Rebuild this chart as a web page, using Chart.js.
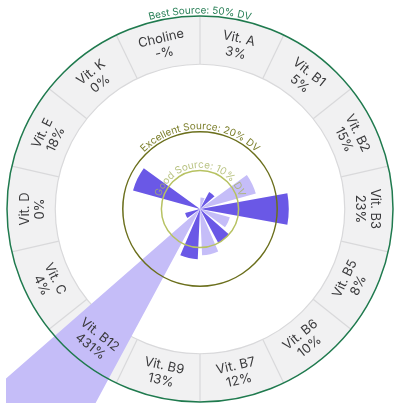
<!DOCTYPE html>
<html>
<head>
<meta charset="utf-8">
<script src="https://cdn.jsdelivr.net/npm/chart.js@4.4.1/dist/chart.umd.min.js"></script>
<style>
  html, body { margin: 0; padding: 0; background: #fff; }
  #wrap { width: 400px; height: 410px; position: relative; }
</style>
</head>
<body>
<div id="wrap"><canvas id="mycanvas"></canvas></div>
<script>
// nutrients, clockwise from the top
var categories = ['Vit. A', 'Vit. B1', 'Vit. B2', 'Vit. B3', 'Vit. B5', 'Vit. B6', 'Vit. B7',
                  'Vit. B9', 'Vit. B12', 'Vit. C', 'Vit. D', 'Vit. E', 'Vit. K', 'Choline'];
// % daily value (null = no data)
var values = [3, 5, 15, 23, 8, 10, 12, 13, 431, 4, 0, 18, 0, null];
// threshold rings
var thresholdValues = [10, 20, 50];
var thresholdLabels = ['Good Source: 10% DV', 'Excellent Source: 20% DV', 'Best Source: 50% DV'];
var scaleMax = 50;
var ringFrom = 37.5;

var dark = '#6a58e6';
var light = '#c5bdf8';
var step = 360 / categories.length;
var barDeg = step * 0.8;
var gapDeg = step - barDeg;

// bars and spacers alternate so each bar sits centred in its slot
var chartLabels = [];
var chartData = [];
for (var i = 0; i < categories.length; i++) {
	chartLabels.push(categories[i]);
	chartData.push(values[i] == null ? 0 : values[i]);
	chartLabels.push('');
	chartData.push(0);
}

function arcText(ctx, text, cx, cy, r) {
	var total = 0;
	var widths = [];
	for (var k = 0; k < text.length; k++) {
		widths.push(ctx.measureText(text[k]).width);
		total += widths[k];
	}
	var a0 = -Math.PI / 2 - total / (2 * r);
	var acc = 0;
	for (var k = 0; k < text.length; k++) {
		var a = a0 + (acc + widths[k] / 2) / r;
		ctx.save();
		ctx.translate(cx + r * Math.cos(a), cy + r * Math.sin(a));
		ctx.rotate(a + Math.PI / 2);
		ctx.fillText(text[k], 0, 0);
		ctx.restore();
		acc += widths[k];
	}
}

var ringPlugin = {
	id: 'ring',
	beforeDatasetsDraw: function(chart) {
		var s = chart.scales.r;
		var ctx = chart.ctx;
		var cx = s.xCenter, cy = s.yCenter;
		var rIn = s.getDistanceFromCenterForValue(ringFrom);
		var rOut = s.getDistanceFromCenterForValue(scaleMax);
		ctx.save();
		ctx.beginPath();
		ctx.arc(cx, cy, rOut, 0, Math.PI * 2);
		ctx.moveTo(cx + rIn, cy);
		ctx.arc(cx, cy, rIn, 0, Math.PI * 2, true);
		ctx.fillStyle = '#f1f1f2';
		ctx.fill();
		ctx.strokeStyle = '#d9d9db';
		ctx.lineWidth = 1.2;
		ctx.beginPath();
		ctx.arc(cx, cy, rIn, 0, Math.PI * 2);
		ctx.stroke();
		for (var i = 0; i < categories.length; i++) {
			var a = (i * step) * Math.PI / 180;
			ctx.beginPath();
			ctx.moveTo(cx + rIn * Math.sin(a), cy - rIn * Math.cos(a));
			ctx.lineTo(cx + rOut * Math.sin(a), cy - rOut * Math.cos(a));
			ctx.stroke();
		}
		ctx.restore();
	},
	afterDatasetsDraw: function(chart) {
		var s = chart.scales.r;
		var ctx = chart.ctx;
		var cx = s.xCenter, cy = s.yCenter;
		var lineColors = ['#b7c262', '#6b6f1c', '#1f7a4e'];
		var textColors = ['rgba(168,180,100,0.8)', '#7c7f2c', '#2a8058'];
		ctx.save();
		ctx.font = '10px Inter';
		ctx.textAlign = 'center';
		ctx.textBaseline = 'alphabetic';
		for (var t = 0; t < thresholdValues.length; t++) {
			var r = s.getDistanceFromCenterForValue(thresholdValues[t]);
			ctx.beginPath();
			ctx.arc(cx, cy, r, 0, Math.PI * 2);
			ctx.strokeStyle = lineColors[t];
			ctx.lineWidth = 1.5;
			ctx.stroke();
			ctx.fillStyle = textColors[t];
			arcText(ctx, thresholdLabels[t], cx, cy, r + 2.5);
		}
		// nutrient labels in the ring
		var rIn = s.getDistanceFromCenterForValue(ringFrom);
		var rOut = s.getDistanceFromCenterForValue(scaleMax);
		var rMid = (rIn + rOut) / 2 - 1;
		ctx.font = '13px Inter';
		ctx.fillStyle = '#3a3a3c';
		ctx.textBaseline = 'middle';
		for (var i = 0; i < categories.length; i++) {
			var mid = (i + 0.5) * step;
			var a = mid * Math.PI / 180;
			var rot = (mid > 90.5 && mid < 269.5) ? a - Math.PI : a;
			ctx.save();
			ctx.translate(cx + rMid * Math.sin(a), cy - rMid * Math.cos(a));
			ctx.rotate(rot);
			ctx.fillText(categories[i], 0, -7);
			ctx.fillText((values[i] == null ? '-' : values[i]) + '%', 0, 8);
			ctx.restore();
		}
		ctx.restore();
	}
};

var ctx = document.getElementById('mycanvas');

var polarGraph = new Chart(ctx, {
	type: 'polarArea',
	data: {
		labels: chartLabels,
		datasets: [{
			data: chartData,
			angle: function(c) { return c.dataIndex % 2 ? gapDeg : barDeg; },
			backgroundColor: function(c) {
				if (c.dataIndex % 2) return 'rgba(0,0,0,0)';
				return (c.dataIndex / 2) % 2 ? dark : light;
			},
			borderWidth: 0,
			clip: 1
		}]
	},
	plugins: [ringPlugin],
	options: {
		responsive: true,
		maintainAspectRatio: false,
		animation: false,
		layout: { padding: { top: 16, bottom: 8, left: 7, right: 7 } },
		plugins: { legend: { display: false }, tooltip: { enabled: false } },
		scales: {
			r: {
				min: 0,
				max: scaleMax,
				startAngle: gapDeg / 2,
				ticks: { display: false },
				grid: { display: false },
				angleLines: { display: false },
				pointLabels: { display: false }
			}
		}
	}
});
</script>
</body>
</html>
